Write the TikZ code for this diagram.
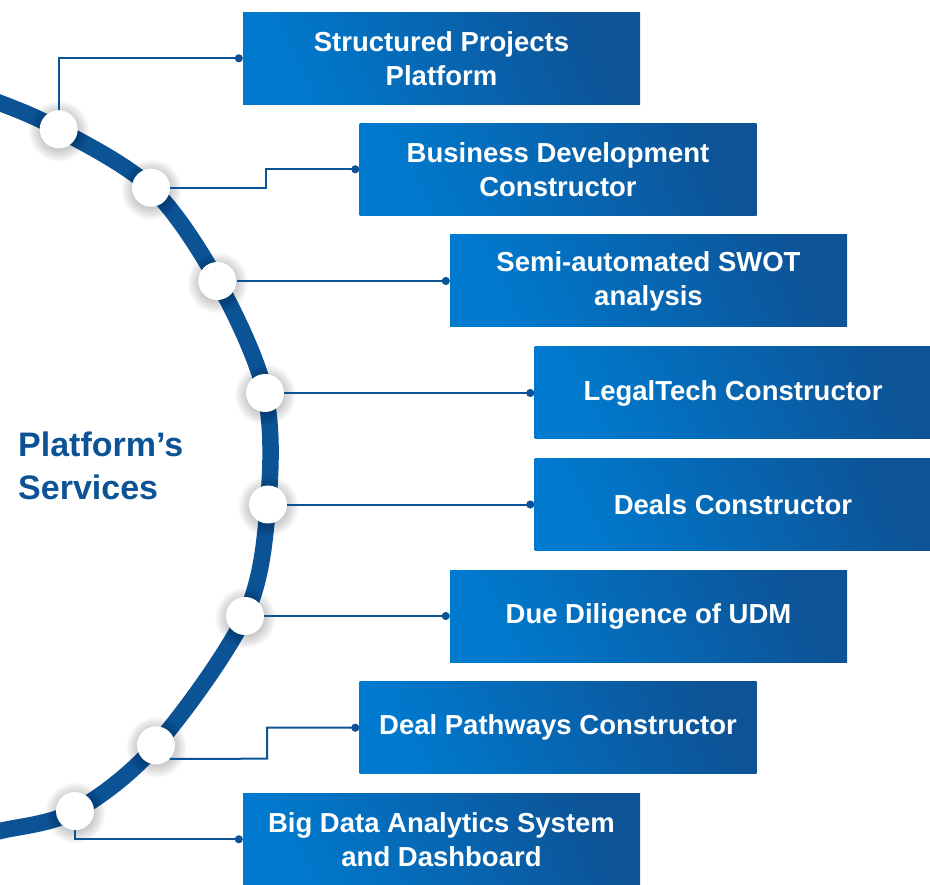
\documentclass[tikz,border=0pt]{standalone}
\usepackage{fontspec}
\setmainfont{Liberation Sans}
\usetikzlibrary{arrows.meta,calc}
\definecolor{arcblue}{RGB}{12,83,150}
\definecolor{boxlight}{RGB}{0,122,206}
\definecolor{boxdark}{RGB}{13,83,150}
\begin{document}
\begin{tikzpicture}[x=1pt,y=-1pt,
  svcbox/.style={rectangle, minimum width=397pt, minimum height=92pt, inner sep=0pt,
    left color=boxlight, right color=boxdark, shading angle=115, text=white,
    font=\fontsize{27.5}{34}\selectfont\bfseries, align=center},
  hub/.style={circle, fill=white, minimum size=38pt, inner sep=0pt},
  softshadow/.style={fill=black, opacity=0.028},
  conn/.style={draw=arcblue, line width=2pt, -{Circle[length=8pt]}},
  ring/.style={draw=arcblue, line width=16.5pt},
  title/.style={text=arcblue, font=\fontsize{34}{43}\selectfont\bfseries, align=left, inner sep=0pt}
]
\useasboundingbox (0,0) rectangle (930,885);
\begin{scope}
\clip (0,0) rectangle (930,885);
\draw[ring] plot[smooth, tension=0.55] coordinates {(-40,91) (0,103) (58.7,129.3) (151,187.7) (217.3,281) (265,393) (268,504.5) (245,616) (156,745.3) (75,811) (0,831) (-40,840)};
\end{scope}

\node[title, anchor=north west] (title) at (18,432) {Platform’s\\Services};

\coordinate (p1) at (58.7,129.3);
\coordinate (p2) at (151,187.7);
\coordinate (p3) at (217.3,281);
\coordinate (p4) at (265,393);
\coordinate (p5) at (268,504.5);
\coordinate (p6) at (245,616);
\coordinate (p7) at (156,745.3);
\coordinate (p8) at (75,811);

\foreach \n in {p1,p2,p3,p4,p5,p6,p7,p8}{
  \foreach \r in {19.5,21,22.5,24,25.5,27,28.5,30}{
    \fill[softshadow] ($(\n)+(0.5,2)$) circle (\r pt);
  }
}

\node[hub] (d1) at (p1) {};
\node[hub] (d2) at (p2) {};
\node[hub] (d3) at (p3) {};
\node[hub] (d4) at (p4) {};
\node[hub] (d5) at (p5) {};
\node[hub] (d6) at (p6) {};
\node[hub] (d7) at (p7) {};
\node[hub] (d8) at (p8) {};

\node[svcbox] (b1) at (441.5,58.3) {Structured Projects\\Platform};
\node[svcbox] (b2) at (558,169.3) {Business Development\\Constructor};
\node[svcbox] (b3) at (648.5,281) {Semi-automated SWOT\\analysis};
\node[svcbox] (b4) at (733,393) {LegalTech Constructor};
\node[svcbox] (b5) at (733,504.5) {Deals Constructor};
\node[svcbox] (b6) at (648.5,616) {Due Diligence of UDM};
\node[svcbox] (b7) at (558,727.7) {Deal Pathways Constructor};
\node[svcbox] (b8) at (441.5,839.3) {Big Data Analytics System\\and Dashboard};

\coordinate (k2) at (265.7,187.7);
\coordinate (k7) at (267,758.7);

\draw[conn] (d1.north) |- (b1.west);
\draw[conn] (d2.east) -- (k2) |- (b2.west);
\draw[conn] (d3.east) -- (b3.west);
\draw[conn] (d4.east) -- (b4.west);
\draw[conn] (d5.east) -- (b5.west);
\draw[conn] (d6.east) -- (b6.west);
\draw[conn] (d7.-45) -- (k7) |- (b7.west);
\draw[conn] (d8.south) |- (b8.west);
\end{tikzpicture}
\end{document}
